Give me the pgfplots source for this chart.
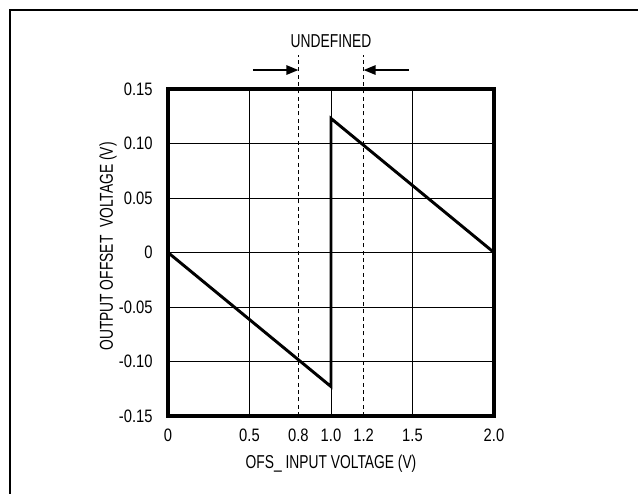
\documentclass[border=0pt]{standalone}
\usepackage{fontspec}
\setmainfont{Liberation Sans}[FakeStretch=0.74]
\newfontfamily\tickfont{Liberation Sans}[FakeStretch=0.82]
\usepackage{pgfplots}
\pgfplotsset{compat=1.18}
\usetikzlibrary{arrows.meta}
\begin{document}
\begin{tikzpicture}[x=1pt,y=1pt]
\useasboundingbox (-126,-57.75) rectangle (352.5,312);
\draw[line width=2pt] (-118.5,-70) -- (-118.5,304.5) -- (370,304.5);
\begin{axis}[
  at={(0,0)}, anchor=south west,
  scale only axis, width=244.5pt, height=245.25pt,
  xmin=0, xmax=2, ymin=-0.15, ymax=0.15,
  axis line style={line width=2.5pt},
  xtick={0,0.5,1,1.5,2}, xticklabels={0,0.5,1.0,1.5,2.0},
  extra x ticks={0.8,1.2}, extra x tick labels={0.8,1.2},
  extra x tick style={grid=none},
  ytick={-0.15,-0.10,-0.05,0,0.05,0.10,0.15},
  yticklabels={-0.15,-0.10,-0.05,0,0.05,0.10,0.15},
  grid=major, major grid style={black, line width=0.75pt},
  major tick length=0pt, tick style={draw=none},
  ticklabel style={font=\tickfont\fontsize{13.5}{15}\selectfont},
  /pgf/number format/assume math mode=true,
  xticklabel shift=6pt, yticklabel shift=8pt,
  xlabel={OFS\_ INPUT VOLTAGE (V)},
  ylabel={OUTPUT OFFSET\ \ VOLTAGE (V)},
  label style={font=\fontsize{14}{16}\selectfont},
  xlabel style={at={(axis description cs:0.5,0)}, anchor=center, yshift=-36pt},
  ylabel style={at={(axis description cs:0,0.5)}, anchor=center, yshift=45pt, xshift=4.5pt},
  clip=false,
]
\addplot[black, line width=0.75pt, dash pattern=on 3pt off 2.5pt] coordinates {(0.8,-0.15) (0.8,0.181)};
\addplot[black, line width=0.75pt, dash pattern=on 3pt off 2.5pt] coordinates {(1.2,-0.15) (1.2,0.181)};
\addplot[black, line width=1.4pt, -{Triangle[length=9pt,width=7pt]}] coordinates {(0.521,0.1674) (0.8,0.1674)};
\addplot[black, line width=1.4pt, -{Triangle[length=9pt,width=7pt]}] coordinates {(1.479,0.1674) (1.2,0.1674)};
\addplot[black, line width=2.2pt, line join=miter] coordinates {(0,0) (1,-0.123) (1,0.123) (2,0)};
\node[font=\fontsize{14}{16}\selectfont] at (axis cs:1,0.1936) {UNDEFINED};
\end{axis}
\end{tikzpicture}
\end{document}
